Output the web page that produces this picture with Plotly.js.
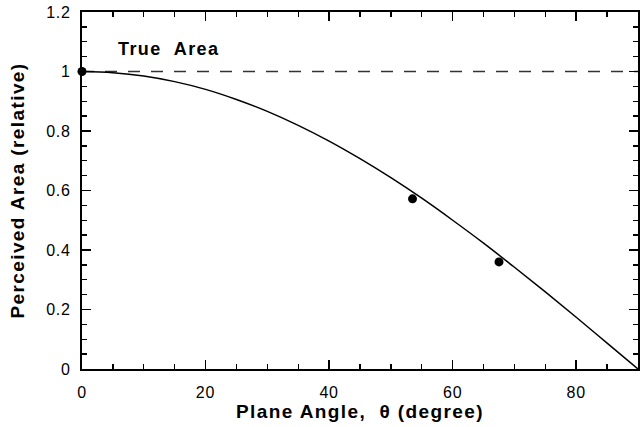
<!DOCTYPE html>
<html>
<head>
<meta charset="utf-8">
<script src="https://cdn.plot.ly/plotly-3.0.1.min.js"></script>
<style>
html,body{margin:0;padding:0;background:#fff;}
#chart{width:641px;height:427px;}
#chart .xtitle, #chart .ytitle, #chart .annotation-text{letter-spacing:1.4px;}
#chart .xtick text, #chart .ytick text{letter-spacing:0.8px;}
</style>
</head>
<body>
<div id="chart"></div>
<script>
// Model curve (perceived area vs plane angle)
const curveAngle = [0,5,10,15,20,25,30,35,40,45,50,55,60,65,70,75,80,85,90];
const curveArea  = [1.0,0.996,0.985,0.966,0.94,0.906,0.866,0.819,0.766,0.707,0.643,0.574,0.5,0.423,0.342,0.259,0.174,0.087,0.0];
// Measured points
const measAngle = [0, 53.5, 67.5];
const measArea  = [1.0, 0.572, 0.36];
// True area reference line
const trueAngle = [0, 90];
const trueArea  = [1, 1];
const xTickVals = [0,20,40,60,80];
const yTickVals = [0,0.2,0.4,0.6,0.8,1,1.2];
const yTickText = ['0','0.2','0.4','0.6','0.8','1','1.2'];

const font = 'Liberation Sans, Arial, Helvetica, sans-serif';
const traces = [
  {x: trueAngle, y: trueArea, mode:'lines', line:{color:'#333', width:1.3, dash:'12px,11px'}, showlegend:false, hoverinfo:'skip'},
  {x: curveAngle, y: curveArea, mode:'lines', line:{color:'#000', width:1.5, shape:'spline'}, showlegend:false},
  {x: measAngle, y: measArea, mode:'markers', marker:{color:'#000', size:9}, cliponaxis:false, showlegend:false}
];
const axisCommon = {
  showgrid:false, zeroline:false, showline:true, linecolor:'#000', linewidth:2,
  mirror:'ticks', ticks:'inside', ticklen:9, tickwidth:1.5, tickcolor:'#000',
  tickfont:{family:font, size:16, color:'#000'}
};
const layout = {
  width:641, height:427,
  margin:{l:82, r:3, t:12, b:58},
  paper_bgcolor:'#fff', plot_bgcolor:'#fff',
  xaxis: Object.assign({}, axisCommon, {
    range:[0,90], tickvals:xTickVals, ticklabelstandoff:8,
    minor:{dtick:5, tick0:0, ticks:'inside', ticklen:5, tickwidth:1.3, tickcolor:'#000'},
    title:{text:'Plane Angle,  θ (degree)', font:{family:font, size:19, color:'#000', weight:'bold'}, standoff:4}
  }),
  yaxis: Object.assign({}, axisCommon, {
    range:[0,1.2], tickvals:yTickVals, ticktext:yTickText, ticklabelstandoff:6,
    minor:{dtick:0.05, tick0:0, ticks:'inside', ticklen:5, tickwidth:1.3, tickcolor:'#000'},
    title:{text:'Perceived Area (relative)', font:{family:font, size:19, color:'#000', weight:'bold'}, standoff:19}
  }),
  annotations:[
    {x:6.6, y:1.075, xref:'x', yref:'y', xanchor:'left', yanchor:'middle', showarrow:false,
     text:'True  Area', font:{family:font, size:18, color:'#000', weight:'bold'}}
  ]
};
Plotly.newPlot('chart', traces, layout, {staticPlot:true, displayModeBar:false});
</script>
</body>
</html>
